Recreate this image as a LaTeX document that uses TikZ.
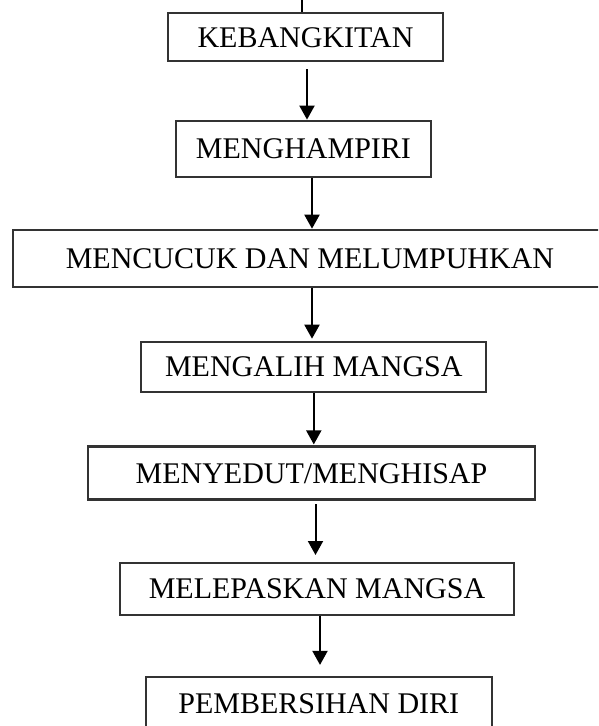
\documentclass[tikz,border=0pt]{standalone}
\usepackage{fontspec}
\setmainfont{Liberation Serif}
\usetikzlibrary{arrows.meta}

\begin{document}
\begin{tikzpicture}
  [x=1pt,y=-1pt,
   every node/.style={draw=black!80,line width=2.2pt,inner sep=0pt,
     font=\fontsize{30}{36}\selectfont,text height=20pt,text depth=0pt},
   flow/.style={line width=2pt,-{Triangle[length=14pt,width=15pt]}}]
    \clip (0,0) rectangle (598,726);
    \coordinate (top) at (302,0);
    \node (keb)    [minimum width=275,minimum height=48] at (305.5,37)  {KEBANGKITAN};
    \node (hamp)   [minimum width=255,minimum height=56] at (303.5,148.7) {MENGHAMPIRI};
    \node (cuc)    [minimum width=594,minimum height=57] at (310,258.3) {MENCUCUK DAN MELUMPUHKAN};
    \node (alih)   [minimum width=345,minimum height=50] at (313.8,366.8) {MENGALIH MANGSA};
    \node (sedut)  [minimum width=447,minimum height=53] at (311.5,473) {MENYEDUT/MENGHISAP};
    \node (lepas)  [minimum width=394,minimum height=52] at (317,588.8) {MELEPASKAN MANGSA};
    \node (bersih) [minimum width=346,minimum height=53] at (318.8,703.5) {PEMBERSIHAN DIRI};

    \draw[line width=2pt] (top) -- (top |- keb.north);
    \foreach \from/\to/\dx/\sa/\sb in {keb/hamp/1.5/7/0,hamp/cuc/8.5/0/0,cuc/alih/2/0/2,
        alih/sedut/0/0/1,sedut/lepas/4/3.4/6.7,lepas/bersih/3/0/11}
      \draw[flow,shorten <=\sa pt,shorten >=\sb pt]
        ([xshift=\dx pt]\from.south) -- ([xshift=\dx pt]\from.south |- \to.north);
\end{tikzpicture}
\end{document}
